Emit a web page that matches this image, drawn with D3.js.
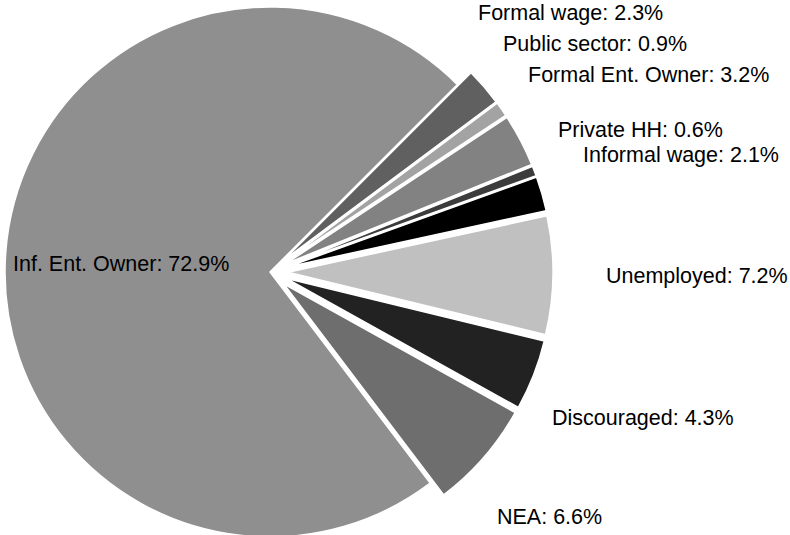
<!DOCTYPE html>
<html>
<head>
<meta charset="utf-8">
<script src="https://cdn.jsdelivr.net/npm/d3@7"></script>
<style>
  html, body { margin: 0; padding: 0; background: #fff; }
  svg { display: block; }
  text { font-family: "Liberation Sans", Arial, sans-serif; font-size: 21.5px; fill: #000; }
</style>
</head>
<body>
<div id="chart"></div>
<script>
// Data (clockwise, starting at the upper right)
const categories = ["Formal wage", "Public sector", "Formal Ent. Owner", "Private HH", "Informal wage",
  "Unemployed", "Discouraged", "NEA", "Inf. Ent. Owner"];
const shares = [2.3, 0.9, 3.2, 0.6, 2.1, 7.2, 4.3, 6.6, 72.9];

// Styling / layout
const greys = ["#606060", "#a3a3a3", "#828282", "#3c3c3c", "#000000", "#c0c0c0", "#222222", "#6e6e6e", "#8f8f8f"];
const explode = [18, 18, 18, 18, 18, 18, 18, 18, 0];
// label anchors (left x, baseline y)
const labelXY = [[478, 20], [503, 51], [528, 82], [558, 137], [583, 162],
  [606, 283], [552, 425], [497, 524], [13, 271]];

const width = 790, height = 535;
const cx = 270, cy = 272, radius = 265;
const start = 45 * Math.PI / 180;

const svg = d3.select("#chart")
  .append("svg")
  .attr("width", width)
  .attr("height", height);

const pie = d3.pie()
  .sort(null)
  .value(d => d.value)
  .startAngle(start)
  .endAngle(start + 2 * Math.PI);

const arc = d3.arc().innerRadius(0).outerRadius(radius);

const slices = pie(categories.map((c, i) => ({ name: c, value: shares[i], i })));

const g = svg.append("g").attr("transform", `translate(${cx}, ${cy})`);

g.selectAll("path")
  .data(slices)
  .enter()
  .append("path")
  .attr("d", arc)
  .attr("transform", d => {
    const mid = (d.startAngle + d.endAngle) / 2;
    const e = explode[d.data.i];
    return `translate(${e * Math.sin(mid)}, ${-e * Math.cos(mid)})`;
  })
  .style("fill", d => greys[d.data.i])
  .style("stroke", "#fff")
  .style("stroke-width", 1.5)
  .style("stroke-linejoin", "round");

svg.selectAll(".label")
  .data(slices)
  .enter()
  .append("text")
  .attr("class", "label")
  .attr("x", d => labelXY[d.data.i][0])
  .attr("y", d => labelXY[d.data.i][1])
  .text(d => `${d.data.name}: ${d3.format(".1f")(d.data.value)}%`);
</script>
</body>
</html>
